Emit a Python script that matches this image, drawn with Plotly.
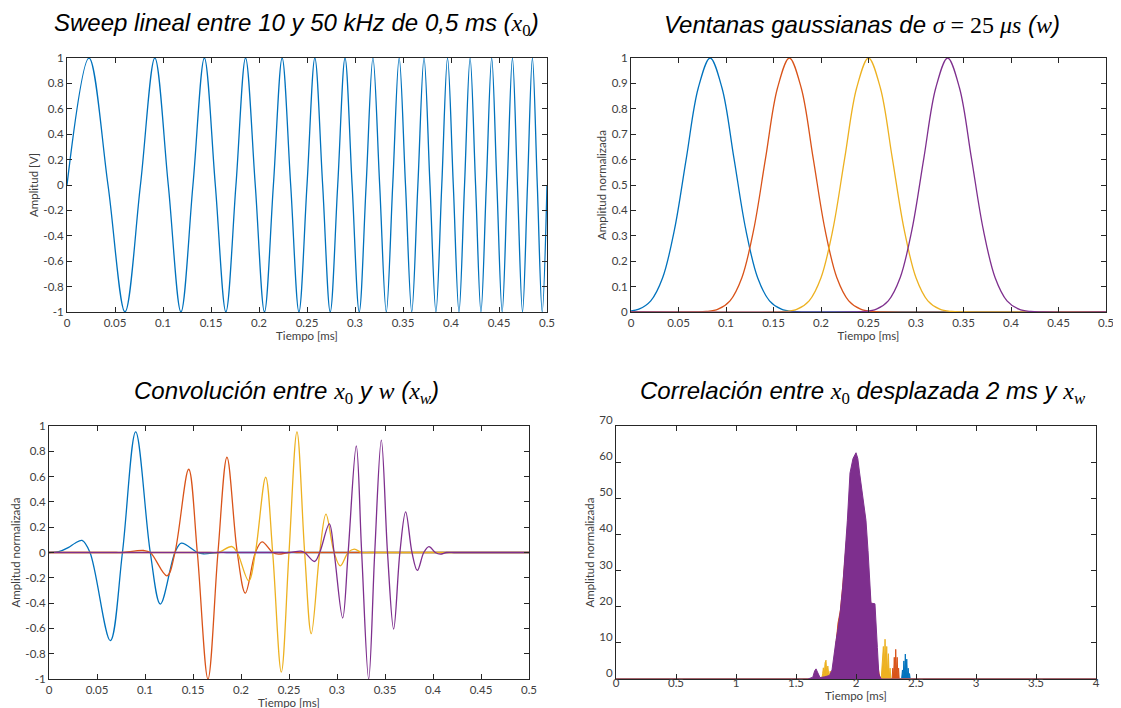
import plotly.graph_objects as go

# ---------------- data ----------------
# Top-left: linear sweep 10-50 kHz, key points (zero crossings and extrema)
sweep_t = [0, 0.0229, 0.0427, 0.0604, 0.0765, 0.0915, 0.1055, 0.1187, 0.1312, 0.1431,
           0.1545, 0.1655, 0.1760, 0.1860, 0.1961, 0.2057, 0.2150, 0.2241, 0.2330, 0.2416,
           0.2500, 0.2582, 0.2663, 0.2742, 0.2820, 0.2896, 0.2970, 0.3044, 0.3116, 0.3187,
           0.3257, 0.3326, 0.3393, 0.3460, 0.3526, 0.3591, 0.3655, 0.3719, 0.3781, 0.3843,
           0.3904, 0.3964, 0.4024, 0.4083, 0.4141, 0.4199, 0.4256, 0.4312, 0.4368, 0.4424,
           0.4478, 0.4533, 0.4586, 0.4640, 0.4692, 0.4745, 0.4797, 0.4848, 0.4899, 0.4950,
           0.5000]
sweep_y = [0, 1, 0, -1, 0, 1, 0, -1, 0, 1,
           0, -1, 0, 1, 0, -1, 0, 1, 0, -1,
           0, 1, 0, -1, 0, 1, 0, -1, 0, 1,
           0, -1, 0, 1, 0, -1, 0, 1, 0, -1,
           0, 1, 0, -1, 0, 1, 0, -1, 0, 1,
           0, -1, 0, 1, 0, -1, 0, 1, 0, -1,
           0]

# Top-right: gaussian windows
win1_t = [0, 0.0083, 0.0208, 0.0333, 0.0458, 0.0583, 0.0708, 0.0833, 0.0958, 0.1083,
          0.1208, 0.1333, 0.1458, 0.1583, 0.1708, 0.1833, 0.2, 0.5]
win1_y = [0.004, 0.011, 0.044, 0.135, 0.325, 0.607, 0.882, 1, 0.882, 0.607,
          0.325, 0.135, 0.044, 0.011, 0.002, 0.0003, 0, 0]
win2_t = [0, 0.0667, 0.0792, 0.0917, 0.1042, 0.1167, 0.1292, 0.1417, 0.1542, 0.1667,
          0.1792, 0.1917, 0.2042, 0.2167, 0.2292, 0.2417, 0.2542, 0.2667, 0.5]
win2_y = [0, 0.0003, 0.002, 0.011, 0.044, 0.135, 0.325, 0.607, 0.882, 1,
          0.882, 0.607, 0.325, 0.135, 0.044, 0.011, 0.002, 0.0003, 0]
win3_t = [0, 0.15, 0.1625, 0.175, 0.1875, 0.2, 0.2125, 0.225, 0.2375, 0.25,
          0.2625, 0.275, 0.2875, 0.3, 0.3125, 0.325, 0.3375, 0.35, 0.5]
win3_y = [0, 0.0003, 0.002, 0.011, 0.044, 0.135, 0.325, 0.607, 0.882, 1,
          0.882, 0.607, 0.325, 0.135, 0.044, 0.011, 0.002, 0.0003, 0]
win4_t = [0, 0.2333, 0.2458, 0.2583, 0.2708, 0.2833, 0.2958, 0.3083, 0.3208, 0.3333,
          0.3458, 0.3583, 0.3708, 0.3833, 0.3958, 0.4083, 0.4208, 0.4333, 0.5]
win4_y = [0, 0.0003, 0.002, 0.011, 0.044, 0.135, 0.325, 0.607, 0.882, 1,
          0.882, 0.607, 0.325, 0.135, 0.044, 0.011, 0.002, 0.0003, 0]

# Bottom-left: windowed sweeps x_w
xw1_t = [0, 0.01, 0.02, 0.0275, 0.0344, 0.0427, 0.0639, 0.0765, 0.0903, 0.1055,
         0.116, 0.1312, 0.1378, 0.1545, 0.161, 0.176, 0.185, 0.2, 0.5]
xw1_y = [0, 0.006, 0.038, 0.075, 0.095, 0, -0.697, 0, 0.953, 0,
         -0.408, 0, 0.074, 0, -0.01, 0, 0, 0, 0]
xw2_t = [0, 0.06, 0.07, 0.0765, 0.0986, 0.1055, 0.1229, 0.1312, 0.1455, 0.1545, 0.1656, 0.176,
         0.1854, 0.1961, 0.2045, 0.215, 0.2219, 0.233, 0.239, 0.25, 0.258, 0.27, 0.5]
xw2_y = [0, 0, 0, 0, 0.016, 0, -0.184, 0, 0.658, 0, -1.0, 0,
         0.753, 0, -0.321, 0, 0.084, 0, -0.013, 0, 0, 0, 0]
xw3_t = [0, 0.155, 0.168, 0.176, 0.1906, 0.1961, 0.208, 0.215, 0.2257, 0.233, 0.242, 0.25,
         0.2583, 0.2663, 0.2732, 0.282, 0.2885, 0.297, 0.3034, 0.3116, 0.318, 0.3257,
         0.334, 0.345, 0.5]
xw3_y = [0, 0, 0, 0, 0.047, 0, -0.224, 0, 0.595, 0, -0.945, 0,
         0.953, 0, -0.642, 0, 0.303, 0, -0.105, 0, 0.026, 0,
         0, 0, 0]
xw4_t = [0, 0.23, 0.243, 0.25, 0.2625, 0.2663, 0.2767, 0.282, 0.292, 0.297, 0.3059, 0.3116,
         0.3201, 0.3257, 0.333, 0.3393, 0.3462, 0.3526, 0.359, 0.3655, 0.3715, 0.3781,
         0.3837, 0.3904, 0.3958, 0.4024, 0.4076, 0.4141, 0.422, 0.435, 0.5]
xw4_y = [0, 0, 0, 0, 0.011, 0, -0.071, 0, 0.226, 0, -0.518, 0,
         0.842, 0, -1.0, 0, 0.889, 0, -0.605, 0, 0.321, 0,
         -0.142, 0, 0.047, 0, -0.013, 0, 0, 0, 0]

# Bottom-right: correlation (envelopes of the dense bursts and visible side lobes)
cor1_t = [0, 2.38, 2.387, 2.393, 2.399, 2.405, 2.411, 2.417, 2.423, 2.429, 2.435, 2.44, 2.446, 2.452, 4]
cor1_y = [0, 0, 2.5, 0.5, 5, 1, 6.9, 1, 5.5, 0.5, 3, 0.3, 1.5, 0, 0]
cor2_t = [0, 1.80, 1.82, 1.835, 1.85, 1.87, 1.89, 1.95, 2.0, 2.05, 2.12, 2.17, 2.2,
          2.30, 2.307, 2.313, 2.319, 2.325, 2.331, 2.337, 2.343, 2.349, 2.355, 2.36, 4]
cor2_y = [0, 0, 5, 11, 15.5, 19, 26, 50, 58, 50, 22, 6, 0,
          0, 3, 0.5, 6, 1, 8.2, 1, 6, 0.5, 3, 0, 0]
cor3_t = [0, 1.715, 1.722, 1.728, 1.735, 1.742, 1.75, 1.757, 1.765, 1.775, 1.785, 1.797, 1.805,
          2.21, 2.222, 2.228, 2.235, 2.242, 2.249, 2.256, 2.263, 2.27, 2.277, 2.284, 2.29, 4]
cor3_y = [0, 0, 1.5, 3.1, 0.5, 4.5, 5.2, 1, 3.6, 0.5, 2.2, 0.5, 0,
          0, 5, 9, 2, 11, 3, 9, 1, 7, 0.5, 3, 0, 0]
cor4_t = [0, 1.60, 1.64, 1.655, 1.667, 1.68, 1.70, 1.74, 1.78, 1.80, 1.817, 1.833, 1.85,
          1.867, 1.889, 1.91, 1.928, 1.95, 1.975, 2.0, 2.015, 2.03, 2.06, 2.083, 2.10,
          2.117, 2.125, 2.158, 2.165, 2.178, 2.19, 2.21, 4]
cor4_y = [0, 0, 0.5, 2.2, 2.8, 2.0, 0.4, 0.6, 1.0, 2.5, 7, 10.6, 14,
          18, 25.4, 34, 43.9, 57, 61, 62.6, 61, 57, 50, 43.9, 35.6,
          27.2, 21, 20.8, 15, 8.7, 1.4, 0, 0]

colors = ["#0072BD", "#D95319", "#EDB120", "#7E2F8E"]

x_ticks_half = [0, 0.05, 0.1, 0.15, 0.2, 0.25, 0.3, 0.35, 0.4, 0.45, 0.5]
x_ticks_half_text = ["0", "0.05", "0.1", "0.15", "0.2", "0.25", "0.3", "0.35", "0.4", "0.45", "0.5"]
y_ticks_sym = [-1, -0.8, -0.6, -0.4, -0.2, 0, 0.2, 0.4, 0.6, 0.8, 1]
y_ticks_sym_text = ["-1", "-0.8", "-0.6", "-0.4", "-0.2", "0", "0.2", "0.4", "0.6", "0.8", "1"]
y_ticks_unit = [0, 0.1, 0.2, 0.3, 0.4, 0.5, 0.6, 0.7, 0.8, 0.9, 1]
y_ticks_unit_text = ["0", "0.1", "0.2", "0.3", "0.4", "0.5", "0.6", "0.7", "0.8", "0.9", "1"]
x_ticks_cor = [0, 0.5, 1, 1.5, 2, 2.5, 3, 3.5, 4]
x_ticks_cor_text = ["0", "0.5", "1", "1.5", "2", "2.5", "3", "3.5", "4"]
y_ticks_cor = [0, 10, 20, 30, 40, 50, 60, 70]
y_ticks_cor_text = ["0", "10", "20", "30", "40", "50", "60", "70"]

# ---------------- figure ----------------
fig = go.Figure()
LW = 1.3

def line(t, y, c, xa, ya, shape="spline"):
    fig.add_trace(go.Scatter(x=t, y=y, mode="lines", xaxis=xa, yaxis=ya,
                             line=dict(color=c, width=LW, shape=shape, smoothing=1),
                             showlegend=False, hoverinfo="skip"))

line(sweep_t, sweep_y, colors[0], "x", "y")
for t, y, c in zip([win1_t, win2_t, win3_t, win4_t], [win1_y, win2_y, win3_y, win4_y], colors):
    line(t, y, c, "x2", "y2")
for t, y, c in zip([xw1_t, xw2_t, xw3_t, xw4_t], [xw1_y, xw2_y, xw3_y, xw4_y], colors):
    line(t, y, c, "x3", "y3")
for t, y, c in zip([cor1_t, cor2_t, cor3_t, cor4_t], [cor1_y, cor2_y, cor3_y, cor4_y], colors):
    fig.add_trace(go.Scatter(x=t, y=y, mode="lines", xaxis="x4", yaxis="y4", fill="tozeroy",
                             fillcolor=c, line=dict(color=c, width=1.0),
                             showlegend=False, hoverinfo="skip"))

W, H = 1121, 708
OFF = 8  # page body margin offset

def xdom(a, b):
    return [(a - OFF) / W, (b - OFF) / W]

def ydom(top, bottom):
    return [1 - (bottom - OFF) / H, 1 - (top - OFF) / H]

TICKFONT = dict(family="Lato", size=11.5, color="#404040")
TITLEFONT = dict(family="Lato", size=11.5, color="#404040")

def axis(domain, rng, tv, tt, title, standoff=2, **kw):
    d = dict(domain=domain, range=rng, tickvals=tv, ticktext=tt, showline=True,
             linecolor="#262626", linewidth=1, mirror="allticks", ticks="inside",
             ticklen=5, tickcolor="#262626", showgrid=False, zeroline=False,
             automargin=False,
             tickfont=TICKFONT, title=dict(text=title, font=TITLEFONT, standoff=standoff))
    d.update(kw)
    return d

xd1 = xdom(67, 547); xd2 = xdom(631, 1106)
xd3 = xdom(49, 529); xd4 = xdom(616, 1096)
yd_top = ydom(58, 312)
yd_bot = ydom(426, 679)

fig.update_layout(
    width=W, height=H, margin=dict(l=0, r=0, t=0, b=0, autoexpand=False),
    paper_bgcolor="white", plot_bgcolor="white",
    xaxis=axis(xd1, [0, 0.5], x_ticks_half, x_ticks_half_text, "Tiempo [ms]", anchor="y"),
    yaxis=axis(yd_top, [-1, 1], y_ticks_sym, y_ticks_sym_text, "Amplitud [V]", anchor="x"),
    xaxis2=axis(xd2, [0, 0.5], x_ticks_half, x_ticks_half_text, "Tiempo [ms]", anchor="y2"),
    yaxis2=axis(yd_top, [0, 1], y_ticks_unit, y_ticks_unit_text, "Amplitud normalizada", anchor="x2"),
    xaxis3=axis(xd3, [0, 0.5], x_ticks_half, x_ticks_half_text, "Tiempo [ms]", anchor="y3"),
    yaxis3=axis(yd_bot, [-1, 1], y_ticks_sym, y_ticks_sym_text, "Amplitud normalizada", anchor="x3"),
    xaxis4=axis(xd4, [0, 4], x_ticks_cor, x_ticks_cor_text, "Tiempo [ms]", anchor="y4",
                ticklabelstandoff=-7, standoff=0),
    yaxis4=axis(yd_bot, [0, 70], y_ticks_cor, y_ticks_cor_text, "Amplitud normalizada", anchor="x4",
                ticklabelshift=-6),
)

SERIF_I = '<span style="font-family:Liberation Serif;font-style:italic">'
SERIF_N = '<span style="font-family:Liberation Serif;font-style:normal">'
E = '</span>'
titles = [
    ("Sweep lineal entre 10 y 50 kHz de 0,5 ms (" + SERIF_I + "x" + E + "<sub>" + SERIF_N + "0" + E + "</sub>)", 296, 24),
    ("Ventanas gaussianas de " + SERIF_I + "σ" + E + SERIF_N + " = 25 " + E + SERIF_I + "μs" + E + " (" + SERIF_I + "w" + E + ")", 862, 24),
    ("Convolución entre " + SERIF_I + "x" + E + "<sub>" + SERIF_N + "0" + E + "</sub> y " + SERIF_I + "w" + E + " (" + SERIF_I + "x" + E + "<sub>" + SERIF_I + "w" + E + "</sub>)", 286, 393),
    ("Correlación entre " + SERIF_I + "x" + E + "<sub>" + SERIF_N + "0" + E + "</sub> desplazada 2 ms y " + SERIF_I + "x" + E + "<sub>" + SERIF_I + "w" + E + "</sub>", 863, 393),
]
for txt, cx, cy in titles:
    fig.add_annotation(text=txt, xref="paper", yref="paper", x=(cx - OFF) / W, y=1 - (cy - OFF) / H,
                       xanchor="center", yanchor="middle", showarrow=False,
                       font=dict(family="Liberation Sans", size=24, color="black", style="italic"))

fig.write_html("out.html")
